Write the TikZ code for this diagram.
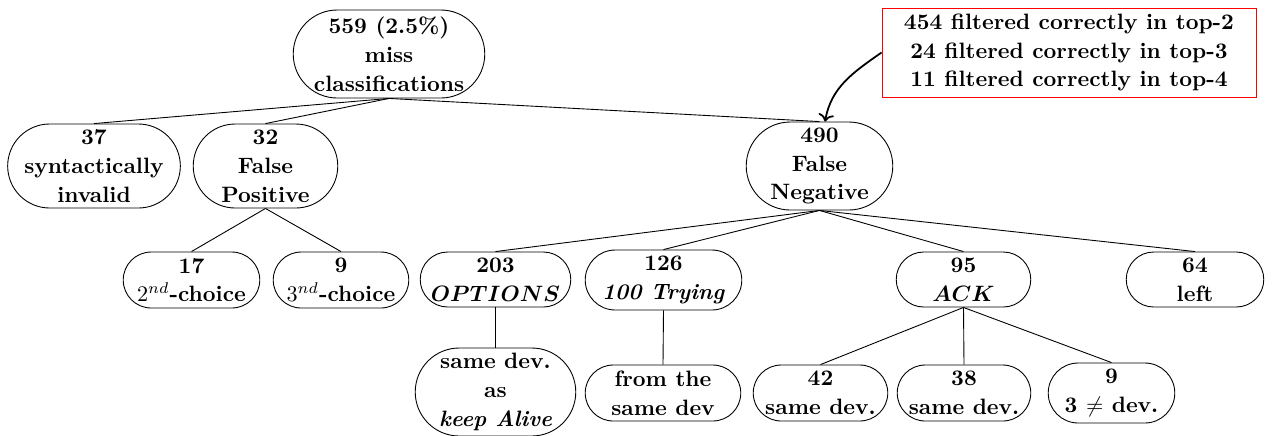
\documentclass[tikz,border=0pt]{standalone}
\usetikzlibrary{shapes.misc,arrows.meta}
\tikzset{
  nd/.style={rounded rectangle, draw, thin, inner sep=1pt, align=center,
    font=\fontsize{10}{13}\selectfont\bfseries},
  infobox/.style={rectangle, draw=red, thin, inner sep=1pt, align=center,
    font=\fontsize{10}{13}\selectfont\bfseries},
  link/.style={draw, thin},
  callout/.style={draw, thick, ->}
}
\begin{document}
\begin{tikzpicture}[x=0.45pt,y=-0.45pt]
\useasboundingbox (0,0) rectangle (1272,435);
% level 0
\node[nd, minimum width={196*0.45pt}, minimum height={88*0.45pt}] (root) at (389,54) {559 (2.5\%)\\miss\\classifications};
\node[infobox, minimum width={374*0.45pt}, minimum height={89*0.45pt}] (info) at (1069,52.5) {454 filtered correctly in top-2\\24 filtered correctly in top-3\\11 filtered correctly in top-4};
% level 1
\node[nd, inner xsep=-2pt, minimum width={172*0.45pt}, minimum height={84*0.45pt}] (syn) at (94,166) {37\\syntactically\\invalid};
\node[nd, minimum width={149*0.45pt}, minimum height={84*0.45pt}] (fp) at (265.5,166) {32\\False\\Positive};
\node[nd, minimum width={151*0.45pt}, minimum height={88*0.45pt}] (fn) at (819.5,166) {490\\False\\Negative};
% level 2
\node[nd, minimum width={141*0.45pt}, minimum height={56*0.45pt}] (c2) at (191.5,280) {17\\$2^{nd}$-choice};
\node[nd, minimum width={140*0.45pt}, minimum height={56*0.45pt}] (c3) at (341,280) {9\\$3^{nd}$-choice};
\node[nd, minimum width={155*0.45pt}, minimum height={55*0.45pt}] (opt) at (495.5,279.5) {203\\{\boldmath$OPTIONS$}};
\node[nd, minimum width={161*0.45pt}, minimum height={60*0.45pt}] (try) at (663.5,280) {126\\\textit{100 Trying}};
\node[nd, minimum width={139*0.45pt}, minimum height={55*0.45pt}] (ack) at (963.5,279.5) {95\\{\boldmath$ACK$}};
\node[nd, minimum width={142*0.45pt}, minimum height={55*0.45pt}] (left) at (1195,279.5) {64\\left};
% level 3
\node[nd, minimum width={165*0.45pt}, minimum height={88*0.45pt}] (keep) at (495.5,392) {same dev.\\as\\\textit{keep Alive}};
\node[nd, minimum width={160*0.45pt}, minimum height={56*0.45pt}] (from) at (663,393) {from the\\same dev};
\node[nd, minimum width={139*0.45pt}, minimum height={56*0.45pt}] (a42) at (820.5,393) {42\\same dev.};
\node[nd, minimum width={138*0.45pt}, minimum height={56*0.45pt}] (a38) at (964,393) {38\\same dev.};
\node[nd, minimum width={131*0.45pt}, minimum height={60*0.45pt}] (a9) at (1111.5,393) {9\\3 $\neq$ dev.};
% connectors
\foreach \c in {syn,fp,fn} \draw[link] (root.south) -- (\c.north);
\foreach \c in {c2,c3} \draw[link] (fp.south) -- (\c.north);
\foreach \c in {opt,try,ack,left} \draw[link] (fn.south) -- (\c.north);
\draw[link] (opt.south) -- (keep.north);
\draw[link] (try.south) -- (from.north);
\foreach \c in {a42,a38,a9} \draw[link] (ack.south) -- (\c.north);
\draw[callout] (info.west) to[out=215, in=80] ([xshift=2.5pt]fn.north);
\end{tikzpicture}
\end{document}
